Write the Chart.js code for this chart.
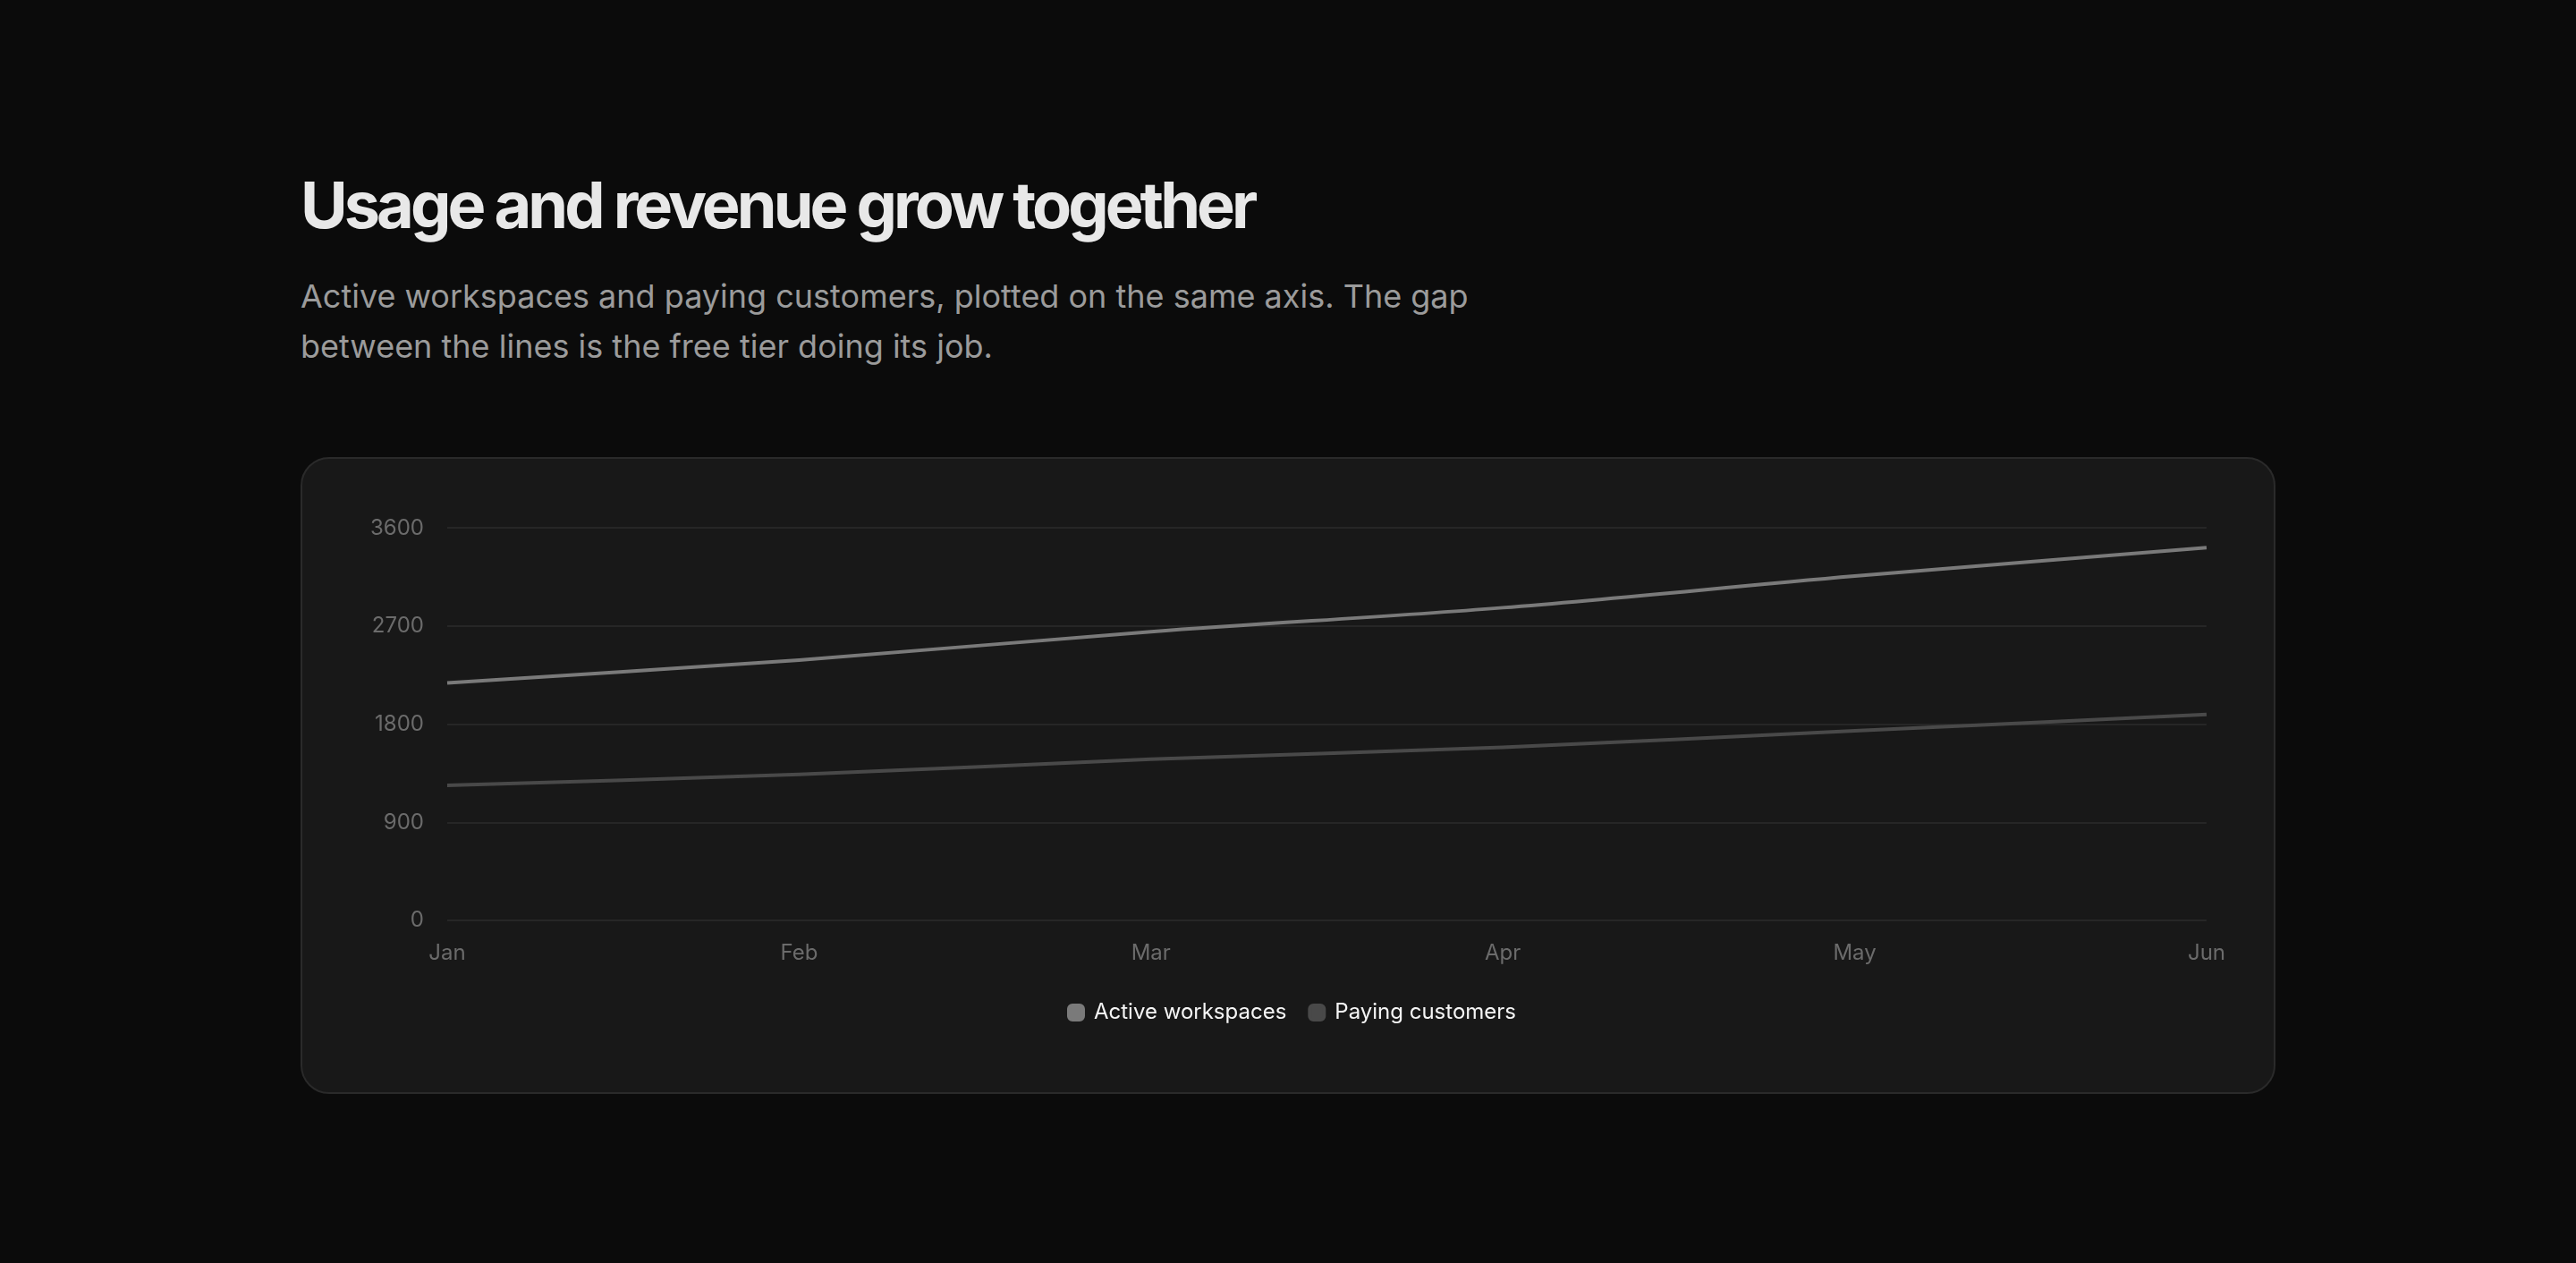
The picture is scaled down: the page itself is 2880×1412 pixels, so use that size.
<!DOCTYPE html>
<html lang="en">
<head>
<meta charset="utf-8">
<title>Usage and revenue grow together</title>
<script src="https://cdn.jsdelivr.net/npm/chart.js@4.4.1/dist/chart.umd.min.js"></script>
<style>
    * { box-sizing: border-box; }
    html, body {
        margin: 0;
        background: #0b0b0b;
        font-family: Inter, "Noto Sans", sans-serif;
    }
    .wrap {
        width: 2208px;
        margin: 0 auto;
        padding-top: 188px;
    }
    h1 {
        margin: 0;
        font-size: 72px;
        line-height: 1.15;
        font-weight: 700;
        letter-spacing: -0.055em;
        color: #e8e8e8;
    }
    .sub {
        margin: 32px 0 0;
        max-width: 1360px;
        font-size: 36px;
        line-height: 56px;
        color: #9b9b9b;
    }
    .card {
        margin-top: 96px;
        background: #181818;
        border: 2px solid #2a2a2a;
        border-radius: 32px;
        padding: 37px 40px 67px 50px;
    }
    .chart-box {
        position: relative;
        height: 604px;
    }
</style>
</head>
<body>
<div class="wrap">
    <h1>Usage and revenue grow together</h1>
    <p class="sub">Active workspaces and paying customers, plotted on the same axis. The gap between the lines is the free tier doing its job.</p>
    <div class="card">
        <div class="chart-box"><canvas id="growthChart"></canvas></div>
    </div>
</div>
<script>
// Data
const months = ['Jan', 'Feb', 'Mar', 'Apr', 'May', 'Jun'];
const activeWorkspaces = [2180, 2390, 2650, 2870, 3160, 3420];
const payingCustomers = [1240, 1340, 1480, 1590, 1740, 1890];
const yTicks = [0, 900, 1800, 2700, 3600];

const tickColor = '#6b6b6b';
const gridColor = '#262626';

new Chart(document.getElementById('growthChart'), {
    type: 'line',
    data: {
        labels: months,
        datasets: [
            {
                label: 'Active workspaces',
                data: activeWorkspaces,
                borderColor: '#7a7a7a',
                backgroundColor: '#7a7a7a',
                borderWidth: 4,
                tension: 0.35,
                pointRadius: 0
            },
            {
                label: 'Paying customers',
                data: payingCustomers,
                borderColor: '#494949',
                backgroundColor: '#494949',
                borderWidth: 4,
                tension: 0.35,
                pointRadius: 0
            }
        ]
    },
    options: {
        responsive: true,
        maintainAspectRatio: false,
        animation: false,
        plugins: {
            legend: {
                position: 'bottom',
                labels: {
                    color: '#f5f5f5',
                    font: { family: 'Inter', size: 24 },
                    boxWidth: 16,
                    boxHeight: 16,
                    useBorderRadius: true,
                    borderRadius: 4,
                    padding: 26
                }
            },
            tooltip: { enabled: false }
        },
        scales: {
            x: {
                grid: { display: false },
                border: { display: false },
                ticks: {
                    color: tickColor,
                    font: { family: 'Inter', size: 24 },
                    padding: 14
                }
            },
            y: {
                min: yTicks[0],
                max: yTicks[yTicks.length - 1],
                afterBuildTicks: axis => {
                    axis.ticks = yTicks.map(v => ({ value: v }));
                },
                grid: { color: gridColor, lineWidth: 2, drawTicks: false },
                border: { display: false },
                ticks: {
                    color: tickColor,
                    font: { family: 'Inter', size: 24 },
                    padding: 26,
                    callback: v => String(v)
                }
            }
        }
    }
});
</script>
</body>
</html>
